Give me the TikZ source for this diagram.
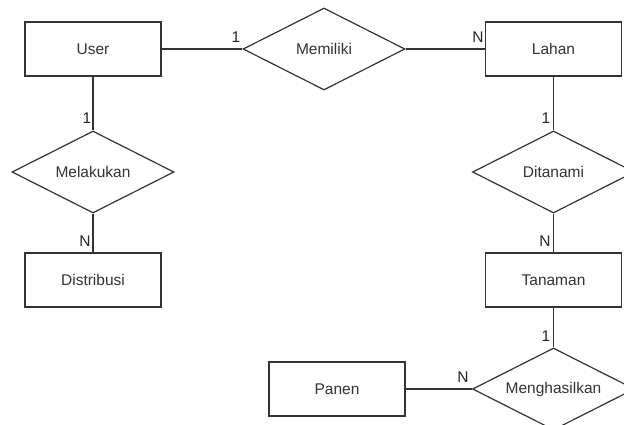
\documentclass[tikz,border=0pt]{standalone}
\usepackage{fontspec}
\setmainfont{Liberation Sans}
\usetikzlibrary{shapes.geometric}
\begin{document}
\begin{tikzpicture}[x=1pt,y=-1pt,
  ent/.style={draw=black!80,line width=1.2pt,rectangle,minimum width=136pt,minimum height=54pt,inner sep=0pt,font=\fontsize{15.5}{18}\selectfont,text=black!80},
  rel/.style={draw=black!80,line width=1.2pt,diamond,aspect=2,minimum width=162pt,minimum height=82pt,inner sep=0pt,font=\fontsize{15.5}{18}\selectfont,text=black!80},
  conn/.style={draw=black!80,line width=1.2pt},
  card/.style={font=\fontsize{15.5}{18}\selectfont,text=black!85,inner sep=0pt}]
\useasboundingbox (0,0) rectangle (624,424);
\clip (0,0) rectangle (624,424);
\fill[white] (0,0) rectangle (624,424);
\node[ent] (user) at (93,49) {User};
\node[rel] (memiliki) at (324,49) {Memiliki};
\node[ent] (lahan) at (553.5,49) {Lahan};
\node[rel] (melakukan) at (93,172) {Melakukan};
\node[ent] (distribusi) at (93,280) {Distribusi};
\node[rel] (ditanami) at (553.5,172) {Ditanami};
\node[ent] (tanaman) at (553.5,280) {Tanaman};
\node[rel] (menghasilkan) at (553.5,389) {Menghasilkan};
\node[ent] (panen) at (337,389) {Panen};
\draw[conn] (user.east) -- (memiliki.west);
\draw[conn] (memiliki.east) -- (lahan.west);
\draw[conn] (user.south) -- (melakukan.north);
\draw[conn] (melakukan.south) -- (distribusi.north);
\draw[conn] (lahan.south) -- (ditanami.north);
\draw[conn] (ditanami.south) -- (tanaman.north);
\draw[conn] (tanaman.south) -- (menghasilkan.north);
\draw[conn] (panen.east) -- (menghasilkan.west);
\node[card] (c1) at (236,37) {1};
\node[card] (c2) at (478,37) {N};
\node[card] (c3) at (87,118) {1};
\node[card] (c4) at (85,241) {N};
\node[card] (c5) at (546,118) {1};
\node[card] (c6) at (545,241) {N};
\node[card] (c7) at (546,336) {1};
\node[card] (c8) at (463,377) {N};
\end{tikzpicture}
\end{document}
